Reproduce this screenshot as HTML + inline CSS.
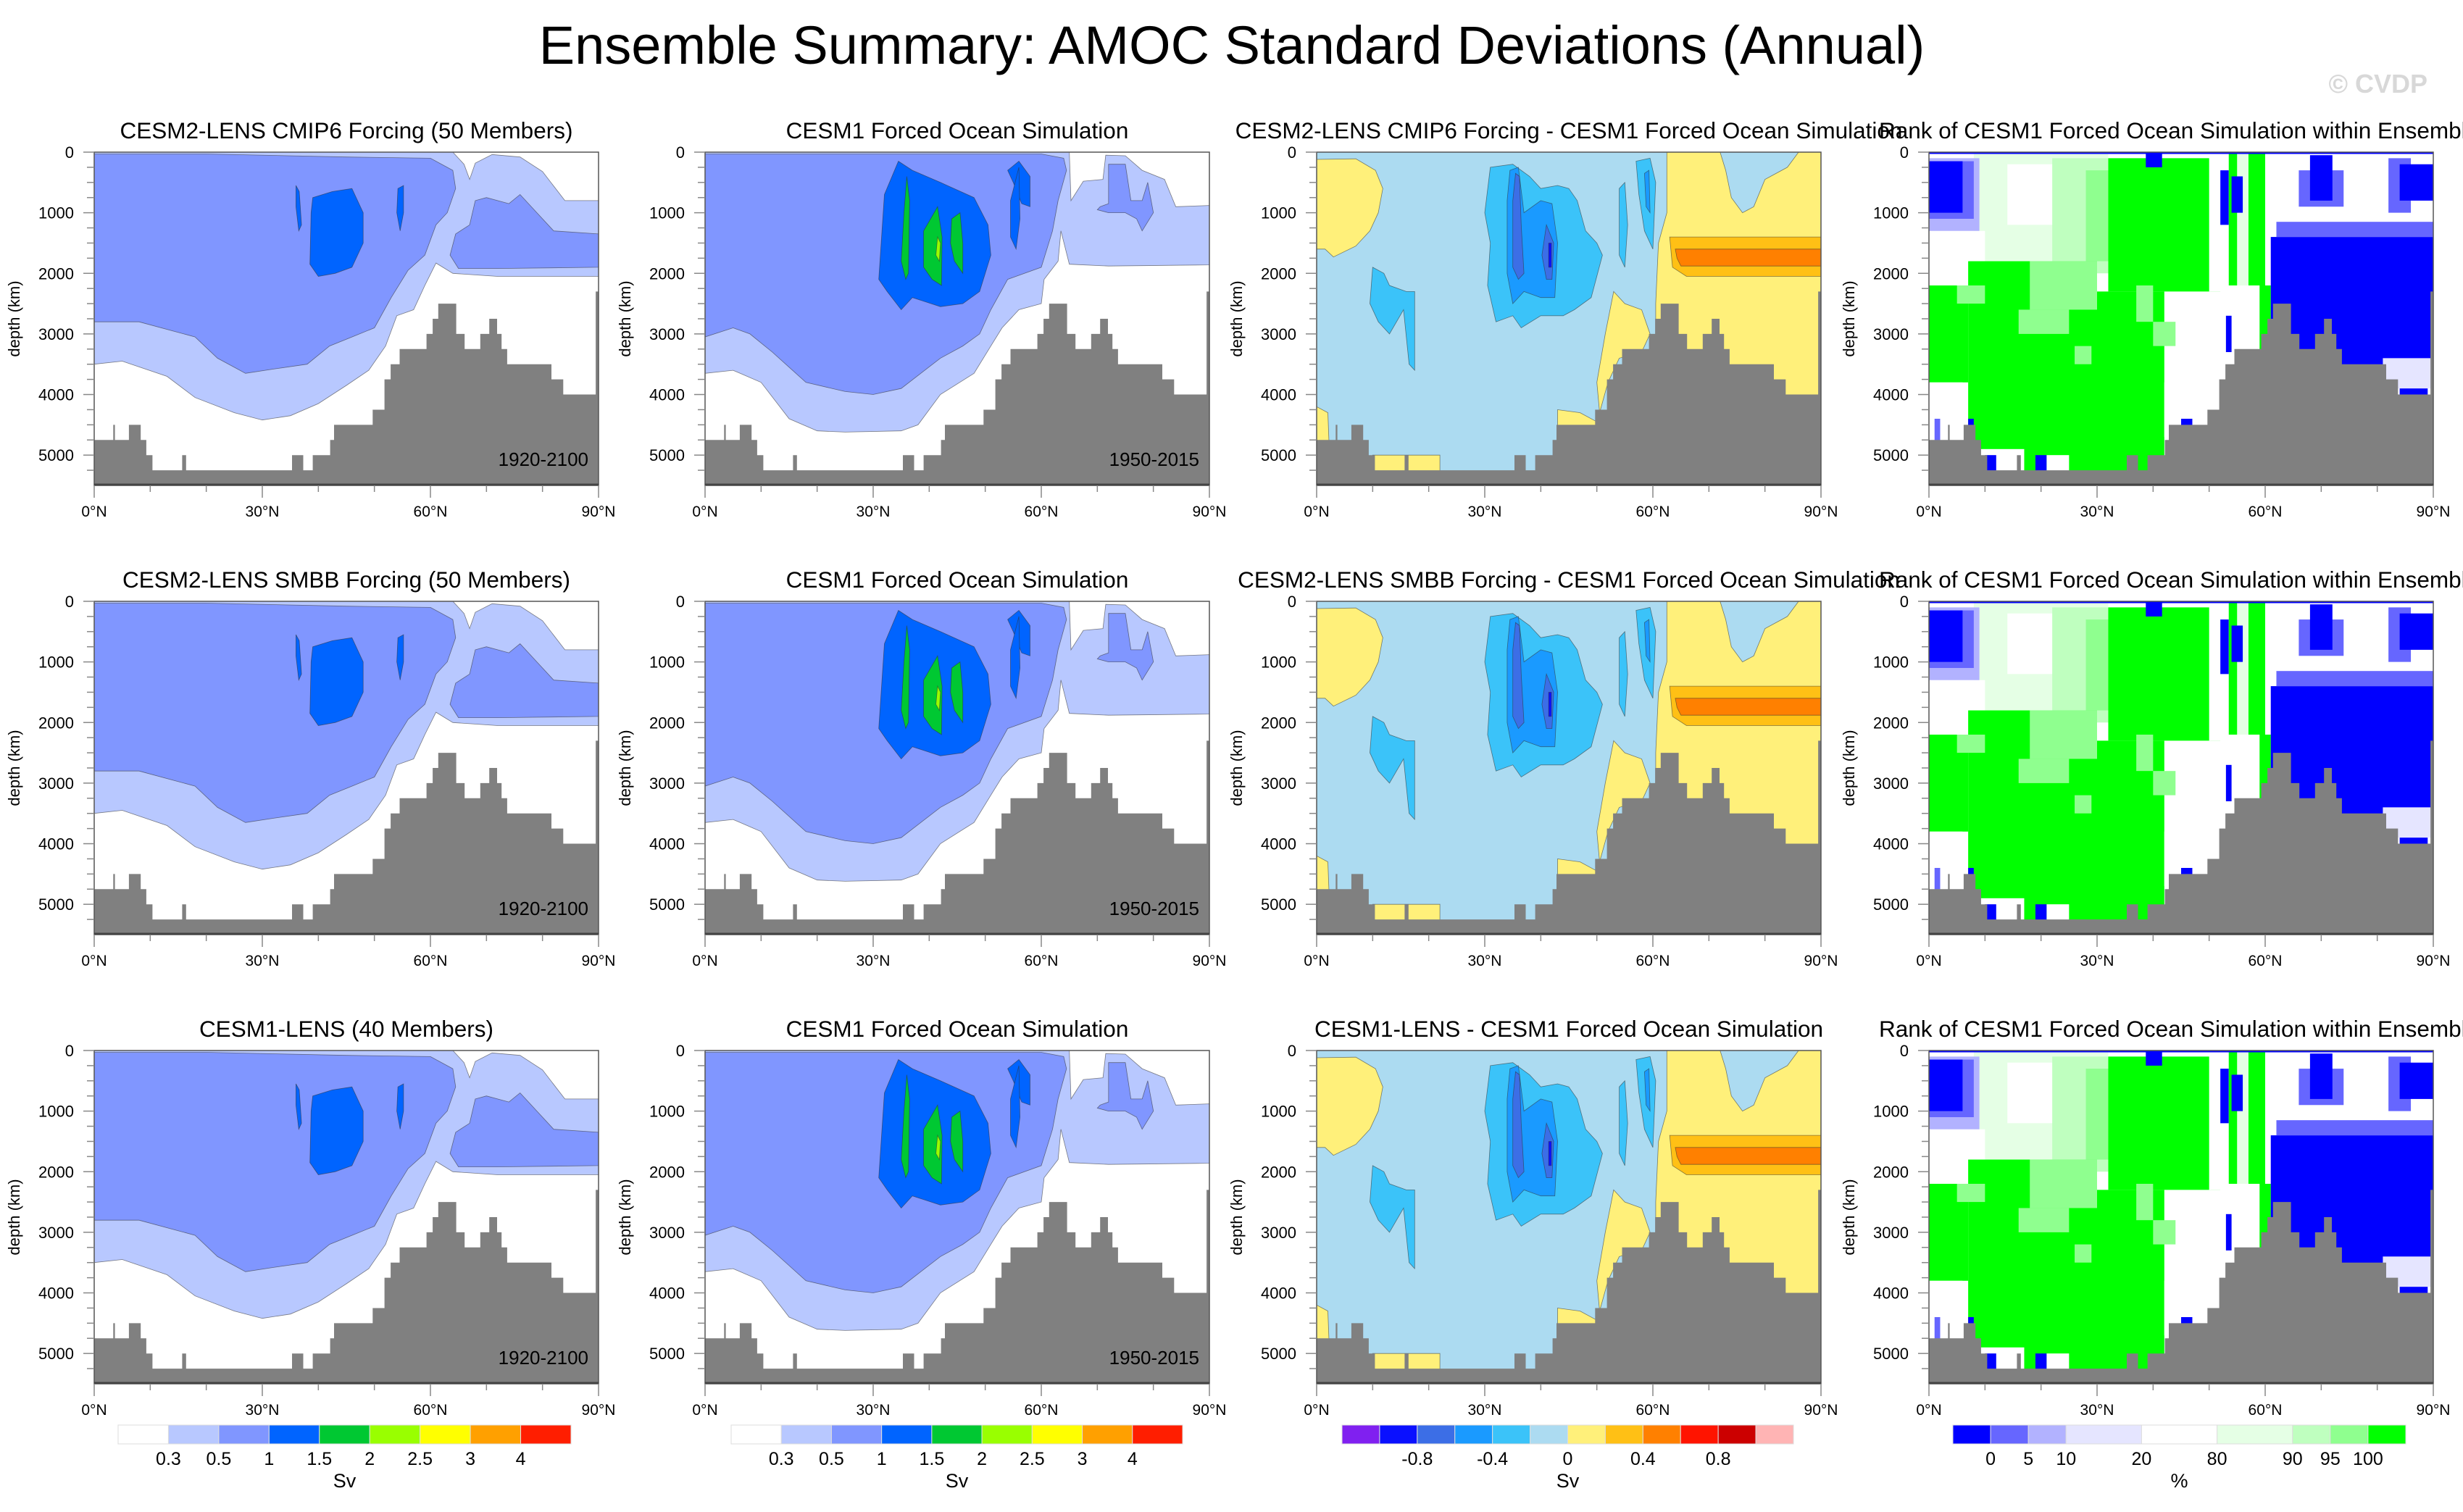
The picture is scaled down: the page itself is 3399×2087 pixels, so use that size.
<!DOCTYPE html>
<html><head><meta charset="utf-8"><title>AMOC Standard Deviations</title>
<style>
html,body{margin:0;padding:0;background:#fff;overflow:hidden;}
svg{display:block;font-family:"Liberation Sans",sans-serif;}
</style></head>
<body>
<svg id="fig" xmlns="http://www.w3.org/2000/svg" width="3399" height="2087" viewBox="0 0 3399 2087">
<rect x="0" y="0" width="3399" height="2087" fill="#fff"/>
<text x="1700" y="88" font-size="74" text-anchor="middle">Ensemble Summary: AMOC Standard Deviations (Annual)</text>
<text x="3350" y="128" font-size="36" font-weight="bold" fill="#d8d8d8" text-anchor="end">© CVDP</text>
<g id="panels"></g>
<g id="bars"></g>
</svg>
<script>
// ---------- data ----------
const rowTitles1 = ["CESM2-LENS CMIP6 Forcing (50 Members)","CESM2-LENS SMBB Forcing (50 Members)","CESM1-LENS (40 Members)"];
const rowTitles3 = ["CESM2-LENS CMIP6 Forcing - CESM1 Forced Ocean Simulation","CESM2-LENS SMBB Forcing - CESM1 Forced Ocean Simulation","CESM1-LENS - CESM1 Forced Ocean Simulation"];
const title2 = "CESM1 Forced Ocean Simulation";
const title4 = "Rank of CESM1 Forced Ocean Simulation within Ensemble";
const periods1 = ["1920-2100","1920-2100","1920-2100"];
const periods2 = ["1950-2015","1950-2015","1950-2015"];
const depthTicks = [0,1000,2000,3000,4000,5000];
const latTicks = [0,30,60,90];
const latTickLabels = ["0°N","30°N","60°N","90°N"];

const sdColors = ["#ffffff","#b8c8ff","#8096ff","#0064ff","#00c832","#99ff00","#ffff00","#ffa000","#ff1e00"];
const sdLabels = ["0.3","0.5","1","1.5","2","2.5","3","4"];
const diffColors = ["#8020f0","#0a10ff","#3c6ee6","#1a9aff","#3bc3f9","#acdbf1","#fff07a","#ffc015","#ff8000","#ff1400","#cc0000","#ffb4b4"];
const diffLabels = ["-0.8","-0.4","0","0.4","0.8"];
const diffLabelEdges = [2,4,6,8,10];
const rankColors = ["#0000ff","#6666ff","#b2b2ff","#e5e5ff","#ffffff","#e5ffe5","#bfffbf","#8fff8f","#00ff00"];
const rankUnits = [1,1,1,2,2,2,1,1,1];
const rankLabels = ["0","5","10","20","80","90","95","100"];

// bathymetry: segment edges (lat) and floor depths (m)
const bathyEdges = [0,3.4,3.7,6.2,8.3,9.3,10.4,15.7,16.4,35.3,37.3,39.0,42.1,42.8,49.7,51.8,52.9,54.5,59.3,60.4,61.4,64.6,66.1,68.9,70.5,71.9,72.7,73.7,81.6,83.7,89.5,90];
const bathyDepth = [4750,4500,4750,4500,4750,5000,5250,5000,5250,5000,5250,5000,4750,4500,4250,3750,3500,3250,3000,2750,2500,3000,3250,3000,2750,3000,3250,3500,3750,4000,2300];

// ensemble std contours [lat, depth]
const ensLight = [[0,0],[64,0],[66,200],[67,450],[68,180],[71,40],[76,80],[80,320],[84,800],[90,800],[90,2050],[72,2050],[64,2000],[61,1830],[59,2200],[57,2600],[54,2700],[52,3200],[49,3600],[45,3850],[40,4150],[35,4350],[30,4420],[25,4300],[18,4050],[13,3700],[5,3450],[0,3500]];
const ensMed = [[0,30],[20,30],[45,80],[60,100],[64,300],[64.5,600],[63,1000],[61,1200],[59,1700],[56,1950],[53,2400],[50,2900],[46,3050],[42,3200],[38,3500],[32,3580],[27,3650],[22,3400],[18,3050],[14,2950],[8,2800],[0,2800]];
const ensMedR = [[64.5,1350],[67,1200],[68,800],[70,750],[74,850],[76,700],[79,1000],[82,1300],[90,1350],[90,1900],[72,1920],[65,1920],[63.5,1700]];
const ensDark1 = [[39,750],[42.5,650],[46,600],[48,1000],[48,1500],[46,1900],[43,2000],[40,2050],[38.5,1850],[38.7,1000]];
const ensDark2 = [[36,550],[36.6,650],[37,1200],[36.5,1300],[36,900]];
const ensDark3 = [[54.2,600],[55.2,550],[55.2,1000],[54.6,1300],[54,1000]];

// forced ocean simulation std contours
const fosLight = [[0,0],[65,0],[65.3,800],[67.5,480],[71,450],[71.5,50],[75,60],[78,300],[82,450],[84,900],[90,880],[90,1860],[72,1880],[65,1850],[63.5,1300],[63,1800],[60.5,2100],[60,2500],[56,2600],[53,2900],[51,3200],[48,3650],[42,4000],[38,4500],[35,4600],[25,4620],[20,4600],[15,4400],[10,3800],[5,3600],[0,3650]];
const fosMed = [[0,30],[60,30],[64,100],[64.5,300],[63,800],[62,1300],[60,1900],[54,2100],[51,2600],[49,3000],[46,3200],[42,3400],[35,3900],[30,4000],[25,3950],[18,3800],[12,3300],[8,3000],[5,2900],[0,3050]];
const fosMedR = [[72,200],[75,200],[76,800],[78,800],[79,500],[80,1000],[78,1300],[77,1100],[75,1000],[72,1000],[70,950],[70.5,900],[72,850]];
const fosDark1 = [[31,2100],[32,700],[34.5,150],[37,300],[42,500],[48,750],[50.5,1200],[51,1700],[49,2300],[46,2500],[42,2550],[37,2400],[35,2600],[32.5,2300]];
const fosDark2 = [[54,300],[56,150],[58,400],[58,900],[56.5,850],[55,500]];
const fosDark3 = [[54.5,800],[56,250],[56.2,1100],[55.5,1600],[54.5,1400]];
const fosGreen1 = [[35,1800],[35.5,1000],[36,400],[36.5,800],[36.3,2000],[35.8,2100]];
const fosGreen2 = [[39,1300],[41.5,900],[42.3,1400],[42.2,2200],[40.5,2100],[39,1900]];
const fosGreen3 = [[43.8,1500],[44,1100],[45.5,1000],[46,1500],[46,2000],[44.5,1800]];
const fosLime = [[41.2,1700],[41.5,1400],[42,1500],[41.8,1800]];

// difference contours: class index into diffColors + vertices
const diffCls = [6,6,5,6,6,4,4,3,2,2,1,4,4,3,7,8,6,6];
const diffShapes = [
 [[0,120],[7,110],[10.5,300],[11.8,600],[11,1000],[9.5,1300],[7,1550],[3,1730],[1.5,1600],[0,1600]],
 [[62.5,0],[90,0],[90,5500],[60.5,5500],[60.5,2500],[61,1500],[62.5,1000]],
 [[72,0],[86,0],[84,250],[80,450],[78,900],[76,1000],[74,750],[73,300]],
 [[53,2300],[55,2500],[58,2600],[59.5,3000],[58,3300],[54,3400],[52,3800],[50.5,4300],[50,3800],[51.5,3000]],
 [[0,4200],[2,4300],[2.5,5500],[0,5500]],
 [[10,1900],[11,1950],[12,2000],[13,2200],[16,2300],[17.5,2300],[17.5,3600],[16.5,3500],[15.5,2600],[13,3000],[11,2800],[9.5,2500]],
 [[31,250],[35,200],[38,400],[40,600],[43,550],[45,600],[46.5,800],[48,1300],[50,1500],[51,1700],[49,2400],[46,2600],[44,2700],[40,2700],[36.5,2900],[35,2700],[32,2800],[30.5,2200],[31,1500],[30,1000]],
 [[34.5,300],[36,250],[37,1000],[40,800],[42,850],[43,1500],[42.5,2400],[40,2400],[37,2300],[35,2500],[34,2000],[34,800]],
 [[35,800],[35.5,350],[36.2,400],[36.5,1200],[37,2000],[36,2100],[35,1900]],
 [[40.2,1700],[41,1200],[42.3,1500],[42,2100],[41,2100]],
 [[41.4,1500],[41.9,1500],[41.9,1900],[41.4,1900]],
 [[54,600],[55,500],[55.5,1200],[55,1900],[54,1700]],
 [[57,150],[59.5,100],[60.5,500],[60,1600],[58.5,1300],[57.5,700]],
 [[58.5,350],[59.3,300],[59.5,1000],[58.8,900]],
 [[63,1400],[90,1400],[90,2050],[66,2050],[63.5,1900]],
 [[64,1600],[90,1600],[90,1880],[65,1880],[64.3,1750]],
 [[43,4250],[47,4300],[50,4450],[50,4800],[43,4800]],
 [[10,5000],[22,5000],[22,5500],[10,5500]]
];

// rank rectangles: lat0, lat1, depth0, depth1, class
const rankLat0 = [0,8,14,0,22,28,32,50,52,53.5,57,55,38.7,0,7,30,5,18,16,26,37,40,0,1,7,9,10,19,21,42,45,52,53,59,61,61,62,66,68,82,84,54,81,84,0,0,0,0];
const rankLat1 = [90,32,30,10,32,33,52,56,53.5,55,60,57,41.6,7,30,42,10,30,25,29,40,44,6,2,8,17,12,21,25,52,47,61,54,61,90,90,90,74,72,86,90,56,90,89,9,8,6,90];
const rankD0   = [0,0,200,1300,100,300,100,0,300,0,0,0,30,2200,1800,2300,2200,1800,2600,3200,2200,2800,3800,4400,4400,4900,5000,5000,5000,3800,4400,2200,2700,2200,0,1400,1150,300,50,100,200,400,3400,3900,100,150,150,0];
const rankD1   = [5500,1900,1200,2200,2000,1800,2300,2300,1200,2200,2900,2200,250,3800,5500,5500,2500,2600,3000,3500,2800,3200,4900,4900,4900,5500,5500,5500,5500,4700,4650,3400,3300,3400,1400,3700,1400,900,800,1000,800,1000,3900,4100,1300,1100,1000,30];
const rankCls  = [4,5,4,4,6,7,8,4,0,8,8,5,0,8,8,8,7,7,7,7,7,7,4,1,0,4,0,0,4,4,0,4,0,8,4,0,1,1,0,1,0,0,3,0,2,1,0,0];

// ---------- layout helpers ----------
const colL = [130,973,1817,2662], PW = 696;
const rowT = [210,830,1450], PH = 460, DMAX = 5500;
function X(c,lat){ return colL[c] + lat/90*PW; }
function Y(r,d){ return rowT[r] + d/DMAX*PH; }
const NS = "http://www.w3.org/2000/svg";
function mk(tag, attrs, parent){
  const e = document.createElementNS(NS, tag);
  for (const k in attrs) e.setAttribute(k, attrs[k]);
  parent.appendChild(e); return e;
}
function poly(c,r,pts,fill,parent,name){
  const p = mk('polygon',{points: pts.map(q=>X(c,q[0]).toFixed(1)+','+Y(r,q[1]).toFixed(1)).join(' '), fill: fill, stroke:'#333', 'stroke-width':0.8, 'stroke-opacity':0.6}, parent);
  
  
  return p;
}

const panelsG = document.getElementById('panels');
for (let r=0;r<3;r++){
  for (let c=0;c<4;c++){
    const g = mk('g',{}, panelsG);
    
    
    const cp = mk('clipPath',{id:'cp'+r+c}, g);
    mk('rect',{x:colL[c],y:rowT[r],width:PW,height:PH}, cp);
    const plot = mk('g',{'clip-path':'url(#cp'+r+c+')'}, g);
    
    
    const bg = c===2 ? diffColors[5] : '#ffffff';
    const bgr = mk('rect',{x:colL[c],y:rowT[r],width:PW,height:PH,fill:bg}, plot);
    
    
    if (c===0){
      poly(c,r,ensLight,sdColors[1],plot,'contour-0.3');
      poly(c,r,ensMed,sdColors[2],plot,'contour-0.5');
      poly(c,r,ensMedR,sdColors[2],plot,'contour-0.5-north');
      poly(c,r,ensDark1,sdColors[3],plot,'contour-1');
      poly(c,r,ensDark2,sdColors[3],plot,'contour-1');
      poly(c,r,ensDark3,sdColors[3],plot,'contour-1');
    } else if (c===1){
      poly(c,r,fosLight,sdColors[1],plot,'contour-0.3');
      poly(c,r,fosMed,sdColors[2],plot,'contour-0.5');
      poly(c,r,fosMedR,sdColors[2],plot,'contour-0.5-north');
      poly(c,r,fosDark1,sdColors[3],plot,'contour-1');
      poly(c,r,fosDark2,sdColors[3],plot,'contour-1');
      poly(c,r,fosDark3,sdColors[3],plot,'contour-1');
      poly(c,r,fosGreen1,sdColors[4],plot,'contour-1.5');
      poly(c,r,fosGreen2,sdColors[4],plot,'contour-1.5');
      poly(c,r,fosGreen3,sdColors[4],plot,'contour-1.5');
      poly(c,r,fosLime,sdColors[5],plot,'contour-2');
    } else if (c===2){
      for (let i=0;i<diffShapes.length;i++) poly(c,r,diffShapes[i],diffColors[diffCls[i]],plot,'diff-contour');
    } else {
      for (let i=0;i<rankLat0.length;i++){
        const x0=X(c,rankLat0[i]), x1=X(c,rankLat1[i]), y0=Y(r,rankD0[i]), y1=Y(r,rankD1[i]);
        const rc = mk('rect',{x:x0,y:y0,width:x1-x0,height:y1-y0,fill:rankColors[rankCls[i]]}, plot);
        
        
      }
    }
    // bathymetry
    let d = 'M'+X(c,0)+','+Y(r,DMAX);
    for (let i=0;i<bathyDepth.length;i++){
      d += ' L'+X(c,bathyEdges[i]).toFixed(1)+','+Y(r,bathyDepth[i]).toFixed(1)+' L'+X(c,bathyEdges[i+1]).toFixed(1)+','+Y(r,bathyDepth[i]).toFixed(1);
    }
    d += ' L'+X(c,90)+','+Y(r,DMAX)+' Z';
    const bp = mk('path',{d:d,fill:'#808080'}, plot);
    
    
    // frame
    const fr = mk('rect',{x:colL[c],y:rowT[r],width:PW,height:PH,fill:'none',stroke:'#555','stroke-width':1.5}, g);
    
    
    mk('line',{x1:colL[c],x2:colL[c]+PW,y1:rowT[r]+PH-1,y2:rowT[r]+PH-1,stroke:'#444','stroke-width':3}, g);
    // y ticks & labels
    for (let dd=0; dd<=5250; dd+=250){
      const major = dd%1000===0;
      mk('line',{x1:colL[c]-(major?15:10),x2:colL[c],y1:Y(r,dd),y2:Y(r,dd),stroke:'#888','stroke-width':1.5}, g);
    }
    for (const t of depthTicks){
      const tl = mk('text',{x:colL[c]-28,y:Y(r,t)+8,'font-size':22,'text-anchor':'end'}, g);
      tl.textContent = String(t);
      
      
    }
    const yt = mk('text',{x:0,y:0,'font-size':22,'text-anchor':'middle',transform:'translate('+(colL[c]-103)+','+(rowT[r]+PH/2)+') rotate(-90)'}, g);
    yt.textContent = 'depth (km)';
    
    
    // x ticks & labels
    for (let lat=0; lat<=90; lat+=10){
      const major = lat%30===0;
      mk('line',{x1:X(c,lat),x2:X(c,lat),y1:rowT[r]+PH,y2:rowT[r]+PH+(major?17:9),stroke:'#888','stroke-width':1.5}, g);
    }
    for (let i=0;i<latTicks.length;i++){
      const xl = mk('text',{x:X(c,latTicks[i]),y:rowT[r]+PH+43,'font-size':21,'text-anchor':'middle'}, g);
      xl.textContent = latTickLabels[i];
      
      
    }
    // title
    const titles = [rowTitles1[r], title2, rowTitles3[r], title4];
    const tt = mk('text',{x: c===3 ? 2593 : colL[c]+PW/2, y: rowT[r]-19, 'font-size':31.5, 'text-anchor': c===3?'start':'middle'}, g);
    tt.textContent = titles[c];
    
    
    if (c<2){
      const pl = mk('text',{x:colL[c]+PW-14,y:rowT[r]+PH-27,'font-size':26,'text-anchor':'end'}, g);
      pl.textContent = c===0 ? periods1[r] : periods2[r];
      
      
    }
  }
}

// ---------- colorbars ----------
const barsG = document.getElementById('bars');
function colorbar(x0, x1, colors, units, labels, labelEdges, unit, name){
  const g = mk('g',{}, barsG);
  
  
  const total = units.reduce((a,b)=>a+b,0);
  const edges=[x0]; let acc=0;
  for (const u of units){ acc+=u; edges.push(x0+(x1-x0)*acc/total); }
  for (let i=0;i<colors.length;i++){
    const b = mk('rect',{x:edges[i],y:1967,width:edges[i+1]-edges[i],height:26,fill:colors[i],stroke:'#ddd','stroke-width':1}, g);
    
    
  }
  for (let i=0;i<labels.length;i++){
    const t = mk('text',{x:edges[labelEdges[i]],y:2022,'font-size':25,'text-anchor':'middle'}, g);
    t.textContent = labels[i];
    
    
  }
  const ut = mk('text',{x:(x0+x1)/2,y:2053,'font-size':27,'text-anchor':'middle'}, g);
  ut.textContent = unit;
  
  
}
const sdUnits = sdColors.map(()=>1);
const sdEdges = sdLabels.map((_,i)=>i+1);
colorbar(163,788,sdColors,sdUnits,sdLabels,sdEdges,'Sv','colorbar-ensemble-std');
colorbar(1009,1632,sdColors,sdUnits,sdLabels,sdEdges,'Sv','colorbar-forced-std');
colorbar(1852,2475,diffColors,diffColors.map(()=>1),diffLabels,diffLabelEdges,'Sv','colorbar-difference');
colorbar(2695,3320,rankColors,rankUnits,rankLabels,rankLabels.map((_,i)=>i+1),'%','colorbar-rank');
</script>
</body></html>
